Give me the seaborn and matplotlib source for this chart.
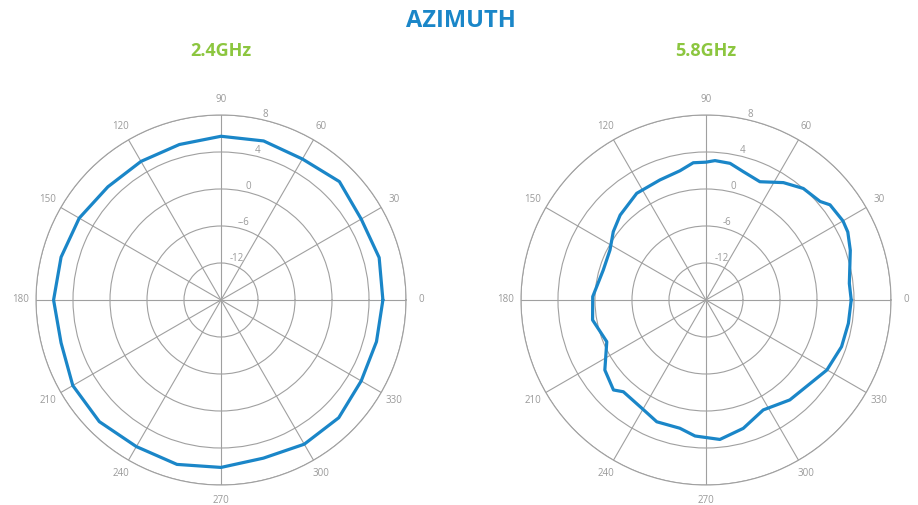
import numpy as np
import matplotlib
matplotlib.use("Agg")
import matplotlib.pyplot as plt
import seaborn as sns

# gain readings (dBi) vs azimuth angle (deg)
angles_24 = [0, 15, 30, 45, 60, 75, 90, 105, 120, 135, 150, 165,
             180, 195, 210, 225, 240, 255, 270, 285, 300, 315, 330, 345]
gain_24 = [5.5, 5.7, 5.5, 6.1, 5.6, 5.8, 5.7, 5.4, 5.3, 5.3, 5.7, 5.9,
           6.1, 5.9, 6.5, 6.6, 6.3, 6.4, 6.1, 5.7, 6.0, 6.0, 5.5, 5.4]

angles_58 = [0, 6.6, 19, 25.6, 30, 37.5, 40.8, 48.9, 56.6, 65.5, 73.8, 80,
             86.3, 90, 95.3, 101.4, 111, 123, 135.3, 143.6, 152.5, 163.7,
             178.3, 190, 202.8, 214.7, 224.2, 228, 239.3, 248, 258.5, 265.4,
             275.7, 286.2, 297.5, 310, 329.9, 341, 350.7]
gain_58 = [3.7, 3.6, 4.5, 5.0, 5.1, 4.9, 4.3, 4.0, 3.2, 2.05, 2.45, 3.0,
           3.1, 2.9, 2.9, 2.25, 1.9, 1.75, 1.05, 0.45, -0.45, -0.65,
           0.25, 0.45, -0.55, 1.3, 1.95, 1.35, 1.6, 2.2, 2.15, 2.75,
           3.15, 2.45, 1.4, 2.1, 3.1, 3.5, 3.6]

r_ticks = [-12, -6, 0, 4, 8]
r_labels_24 = ["-12", "--6", "0", "4", "8"]
r_labels_58 = ["-12", "-6", "0", "4", "8"]
theta_ticks = list(range(0, 360, 30))

# rings are evenly spaced although the dB steps are not
ring_db = [-18, -12, -6, 0, 4, 8]
ring_pos = [0, 1, 2, 3, 4, 5]


def fwd(x):
    return np.interp(x, ring_db, ring_pos)


def inv(x):
    return np.interp(x, ring_pos, ring_db)


sns.set_theme(style="white")
plt.rcParams["font.family"] = ["Open Sans", "DejaVu Sans"]

GRID = "#a0a0a0"
LABEL = "#9a9a9a"
LINE = "#1a86c8"

fig = plt.figure(figsize=(9.18, 5.05), dpi=100)


def draw(rect, angles, gains, rlabels, title):
    ax = fig.add_axes(rect, projection="polar")
    ax.set_rscale("function", functions=(fwd, inv))
    th = np.deg2rad(np.r_[angles, angles[0]])
    g = np.r_[gains, gains[0]]
    sns.lineplot(x=th, y=g, ax=ax, sort=False, color=LINE, lw=2.3,
                 estimator=None)
    ax.set_rlim(-18, 8)
    ax.set_rticks(r_ticks)
    ax.set_yticklabels(rlabels)
    ax.set_rlabel_position(77)
    ax.set_xticks(np.deg2rad(theta_ticks))
    ax.set_xticklabels([str(t) for t in theta_ticks])
    ax.tick_params(axis="x", pad=-2, labelsize=7, colors=LABEL)
    ax.tick_params(axis="y", labelsize=7, colors=LABEL)
    ax.grid(True, color=GRID, lw=0.8)
    ax.spines["polar"].set_color(GRID)
    ax.spines["polar"].set_linewidth(0.8)
    ax.set_xlabel("")
    ax.set_ylabel("")
    cx = rect[0] + rect[2] / 2
    fig.text(cx, 0.9, title, ha="center", va="center", fontsize=13,
             fontweight="bold", color="#8cc63f")
    return ax


draw([0.0392, 0.0396, 0.4031, 0.7327], angles_24, gain_24, r_labels_24, "2.4GHz")
draw([0.5675, 0.0396, 0.4031, 0.7327], angles_58, gain_58, r_labels_58, "5.8GHz")

fig.text(0.502, 0.958, "AZIMUTH", ha="center", va="center", fontsize=17,
         fontweight="bold", color="#1a86c8")

fig.savefig("out.png", dpi=100)
